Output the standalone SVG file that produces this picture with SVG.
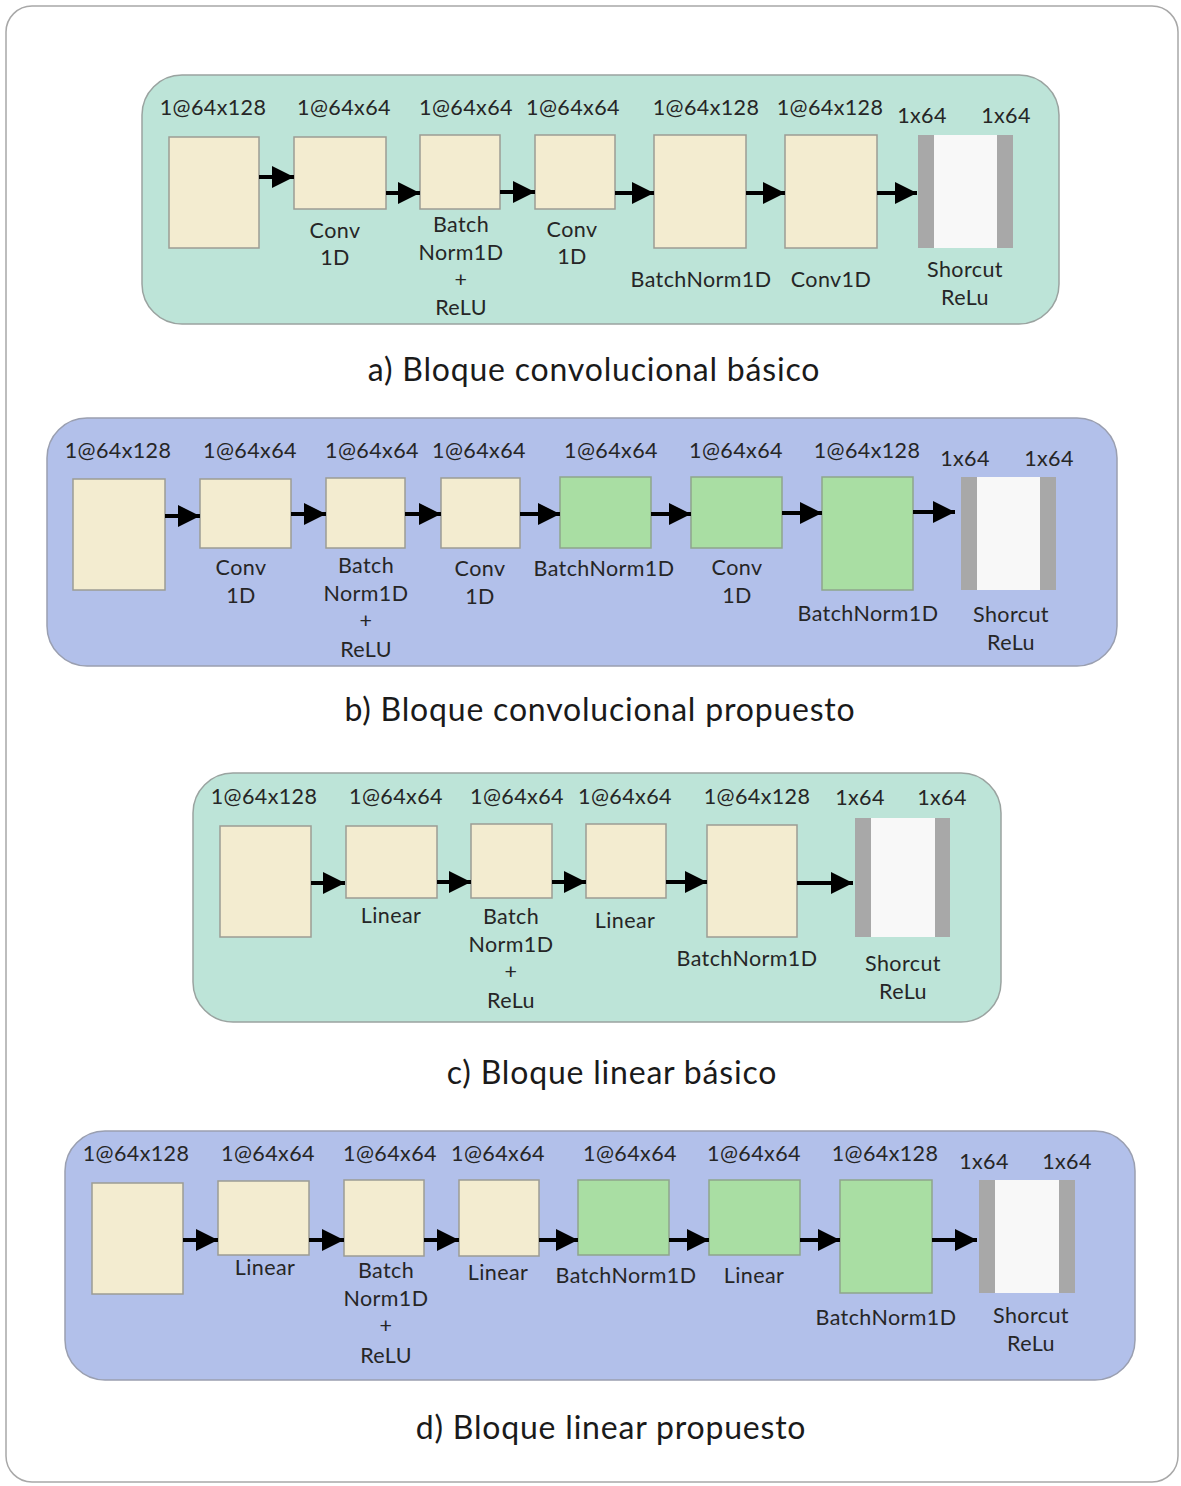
<svg xmlns="http://www.w3.org/2000/svg" width="1181" height="1486" viewBox="0 0 1181 1486">
  <style>
    .frame { fill: #ffffff; stroke: #a8a8a8; stroke-width: 1.5; }
    .mint { fill: #bde4d8; stroke: #9aa3a0; stroke-width: 1.5; }
    .lav { fill: #b2c0ea; stroke: #9a9fb0; stroke-width: 1.5; }
    .cream { fill: #f3ecd0; stroke: #9c9c94; stroke-width: 1.5; }
    .green { fill: #a9dea3; stroke: #8fa58c; stroke-width: 1.5; }
    .bar { fill: #a8a8a8; }
    .core { fill: #f8f8f8; }
    .lbl { font-family: Lato, "Liberation Sans", sans-serif; font-size: 21.5px; letter-spacing: 0.4px; fill: #262626; text-anchor: middle; }
    .cap { font-family: Lato, "Liberation Sans", sans-serif; font-size: 32px; letter-spacing: 0.8px; fill: #1a1a1a; text-anchor: middle; }
    .arrow { stroke: #000000; stroke-width: 4; fill: none; marker-end: url(#head); }
  </style>
  <defs>
    <marker id="head" markerUnits="userSpaceOnUse" markerWidth="22" markerHeight="22" refX="22" refY="11" orient="auto">
      <path d="M0,0 L22,11 L0,22 Z" fill="#000000"/>
    </marker>
  </defs>

  <rect class="frame" x="6" y="6" width="1172" height="1476" rx="26"/>

  <!-- a) basic convolutional block -->
  <g id="panel-a">
    <rect class="mint" x="142" y="75" width="917" height="249" rx="40"/>
    <g id="a-input"><rect class="cream" x="169" y="137" width="90" height="111"/><text class="lbl" x="213" y="115">1@64x128</text></g>
    <g id="a-conv1"><rect class="cream" x="294" y="137" width="92" height="72"/><text class="lbl" x="344" y="115">1@64x64</text><text class="lbl" x="335" y="238">Conv</text><text class="lbl" x="335" y="265">1D</text></g>
    <g id="a-bnrelu"><rect class="cream" x="420" y="135" width="80" height="74"/><text class="lbl" x="466" y="115">1@64x64</text><text class="lbl" x="461" y="232">Batch</text><text class="lbl" x="461" y="260">Norm1D</text><text class="lbl" x="461" y="287">+</text><text class="lbl" x="461" y="315">ReLU</text></g>
    <g id="a-conv2"><rect class="cream" x="535" y="135" width="80" height="74"/><text class="lbl" x="573" y="115">1@64x64</text><text class="lbl" x="572" y="237">Conv</text><text class="lbl" x="572" y="264">1D</text></g>
    <g id="a-bn"><rect class="cream" x="654" y="135" width="92" height="113"/><text class="lbl" x="706" y="115">1@64x128</text><text class="lbl" x="701" y="287">BatchNorm1D</text></g>
    <g id="a-conv3"><rect class="cream" x="785" y="135" width="92" height="113"/><text class="lbl" x="830" y="115">1@64x128</text><text class="lbl" x="831" y="287">Conv1D</text></g>
    <g id="a-shortcut"><rect class="bar" x="918" y="135" width="95" height="113"/><rect class="core" x="934" y="135" width="63" height="113"/><text class="lbl" x="922" y="123">1x64</text><text class="lbl" x="1006" y="123">1x64</text><text class="lbl" x="965" y="277">Shorcut</text><text class="lbl" x="965" y="305">ReLu</text></g>
  </g>
  <text class="cap" x="594" y="381">a) Bloque convolucional básico</text>

  <!-- b) proposed convolutional block -->
  <g id="panel-b">
    <rect class="lav" x="47" y="418" width="1070" height="248" rx="40"/>
    <g id="b-input"><rect class="cream" x="73" y="479" width="92" height="111"/><text class="lbl" x="118" y="458">1@64x128</text></g>
    <g id="b-conv1"><rect class="cream" x="200" y="479" width="91" height="69"/><text class="lbl" x="250" y="458">1@64x64</text><text class="lbl" x="241" y="575">Conv</text><text class="lbl" x="241" y="603">1D</text></g>
    <g id="b-bnrelu"><rect class="cream" x="326" y="478" width="79" height="70"/><text class="lbl" x="372" y="458">1@64x64</text><text class="lbl" x="366" y="573">Batch</text><text class="lbl" x="366" y="601">Norm1D</text><text class="lbl" x="366" y="628">+</text><text class="lbl" x="366" y="657">ReLU</text></g>
    <g id="b-conv2"><rect class="cream" x="441" y="478" width="79" height="70"/><text class="lbl" x="479" y="458">1@64x64</text><text class="lbl" x="480" y="576">Conv</text><text class="lbl" x="480" y="604">1D</text></g>
    <g id="b-bn1"><rect class="green" x="560" y="477" width="91" height="71"/><text class="lbl" x="611" y="458">1@64x64</text><text class="lbl" x="604" y="576">BatchNorm1D</text></g>
    <g id="b-conv3"><rect class="green" x="691" y="477" width="91" height="71"/><text class="lbl" x="736" y="458">1@64x64</text><text class="lbl" x="737" y="575">Conv</text><text class="lbl" x="737" y="603">1D</text></g>
    <g id="b-bn2"><rect class="green" x="822" y="477" width="91" height="113"/><text class="lbl" x="867" y="458">1@64x128</text><text class="lbl" x="868" y="621">BatchNorm1D</text></g>
    <g id="b-shortcut"><rect class="bar" x="961" y="477" width="95" height="113"/><rect class="core" x="977" y="477" width="63" height="113"/><text class="lbl" x="965" y="466">1x64</text><text class="lbl" x="1049" y="466">1x64</text><text class="lbl" x="1011" y="622">Shorcut</text><text class="lbl" x="1011" y="650">ReLu</text></g>
  </g>
  <text class="cap" x="600" y="721">b) Bloque convolucional propuesto</text>

  <!-- c) basic linear block -->
  <g id="panel-c">
    <rect class="mint" x="193" y="773" width="808" height="249" rx="40"/>
    <g id="c-input"><rect class="cream" x="220" y="826" width="91" height="111"/><text class="lbl" x="264" y="804">1@64x128</text></g>
    <g id="c-linear1"><rect class="cream" x="346" y="826" width="91" height="72"/><text class="lbl" x="396" y="804">1@64x64</text><text class="lbl" x="391" y="923">Linear</text></g>
    <g id="c-bnrelu"><rect class="cream" x="471" y="824" width="81" height="74"/><text class="lbl" x="517" y="804">1@64x64</text><text class="lbl" x="511" y="924">Batch</text><text class="lbl" x="511" y="952">Norm1D</text><text class="lbl" x="511" y="979">+</text><text class="lbl" x="511" y="1008">ReLu</text></g>
    <g id="c-linear2"><rect class="cream" x="586" y="824" width="80" height="74"/><text class="lbl" x="625" y="804">1@64x64</text><text class="lbl" x="625" y="928">Linear</text></g>
    <g id="c-bn"><rect class="cream" x="707" y="825" width="90" height="112"/><text class="lbl" x="757" y="804">1@64x128</text><text class="lbl" x="747" y="966">BatchNorm1D</text></g>
    <g id="c-shortcut"><rect class="bar" x="855" y="818" width="95" height="119"/><rect class="core" x="871" y="818" width="64" height="119"/><text class="lbl" x="860" y="805">1x64</text><text class="lbl" x="942" y="805">1x64</text><text class="lbl" x="903" y="971">Shorcut</text><text class="lbl" x="903" y="999">ReLu</text></g>
  </g>
  <text class="cap" x="612" y="1084">c) Bloque linear básico</text>

  <!-- d) proposed linear block -->
  <g id="panel-d">
    <rect class="lav" x="65" y="1131" width="1070" height="249" rx="40"/>
    <g id="d-input"><rect class="cream" x="92" y="1183" width="91" height="111"/><text class="lbl" x="136" y="1161">1@64x128</text></g>
    <g id="d-linear1"><rect class="cream" x="218" y="1181" width="91" height="74"/><text class="lbl" x="268" y="1161">1@64x64</text><text class="lbl" x="265" y="1275">Linear</text></g>
    <g id="d-bnrelu"><rect class="cream" x="344" y="1180" width="80" height="76"/><text class="lbl" x="390" y="1161">1@64x64</text><text class="lbl" x="386" y="1278">Batch</text><text class="lbl" x="386" y="1306">Norm1D</text><text class="lbl" x="386" y="1333">+</text><text class="lbl" x="386" y="1363">ReLU</text></g>
    <g id="d-linear2"><rect class="cream" x="459" y="1180" width="80" height="76"/><text class="lbl" x="498" y="1161">1@64x64</text><text class="lbl" x="498" y="1280">Linear</text></g>
    <g id="d-bn1"><rect class="green" x="578" y="1180" width="91" height="75"/><text class="lbl" x="630" y="1161">1@64x64</text><text class="lbl" x="626" y="1283">BatchNorm1D</text></g>
    <g id="d-linear3"><rect class="green" x="709" y="1180" width="91" height="75"/><text class="lbl" x="754" y="1161">1@64x64</text><text class="lbl" x="754" y="1283">Linear</text></g>
    <g id="d-bn2"><rect class="green" x="840" y="1180" width="92" height="113"/><text class="lbl" x="885" y="1161">1@64x128</text><text class="lbl" x="886" y="1325">BatchNorm1D</text></g>
    <g id="d-shortcut"><rect class="bar" x="979" y="1180" width="96" height="113"/><rect class="core" x="995" y="1180" width="64" height="113"/><text class="lbl" x="984" y="1169">1x64</text><text class="lbl" x="1067" y="1169">1x64</text><text class="lbl" x="1031" y="1323">Shorcut</text><text class="lbl" x="1031" y="1351">ReLu</text></g>
  </g>
  <text class="cap" x="611" y="1439">d) Bloque linear propuesto</text>

  <!-- arrows between consecutive layers -->
  <g id="connectors">
    <line class="arrow" x1="259" y1="177" x2="294" y2="177"/>
    <line class="arrow" x1="386" y1="193" x2="420" y2="193"/>
    <line class="arrow" x1="500" y1="192" x2="535" y2="192"/>
    <line class="arrow" x1="615" y1="193" x2="654" y2="193"/>
    <line class="arrow" x1="746" y1="193" x2="785" y2="193"/>
    <line class="arrow" x1="877" y1="193" x2="917" y2="193"/>

    <line class="arrow" x1="165" y1="516" x2="200" y2="516"/>
    <line class="arrow" x1="291" y1="514" x2="326" y2="514"/>
    <line class="arrow" x1="405" y1="514" x2="441" y2="514"/>
    <line class="arrow" x1="520" y1="514" x2="560" y2="514"/>
    <line class="arrow" x1="651" y1="514" x2="691" y2="514"/>
    <line class="arrow" x1="782" y1="513" x2="822" y2="513"/>
    <line class="arrow" x1="913" y1="512" x2="955" y2="512"/>

    <line class="arrow" x1="311" y1="883" x2="345" y2="883"/>
    <line class="arrow" x1="437" y1="882" x2="471" y2="882"/>
    <line class="arrow" x1="552" y1="882" x2="586" y2="882"/>
    <line class="arrow" x1="666" y1="882" x2="707" y2="882"/>
    <line class="arrow" x1="797" y1="883" x2="853" y2="883"/>

    <line class="arrow" x1="183" y1="1240" x2="218" y2="1240"/>
    <line class="arrow" x1="309" y1="1240" x2="344" y2="1240"/>
    <line class="arrow" x1="424" y1="1240" x2="459" y2="1240"/>
    <line class="arrow" x1="539" y1="1240" x2="578" y2="1240"/>
    <line class="arrow" x1="669" y1="1240" x2="709" y2="1240"/>
    <line class="arrow" x1="800" y1="1240" x2="840" y2="1240"/>
    <line class="arrow" x1="932" y1="1240" x2="977" y2="1240"/>
  </g>
</svg>
